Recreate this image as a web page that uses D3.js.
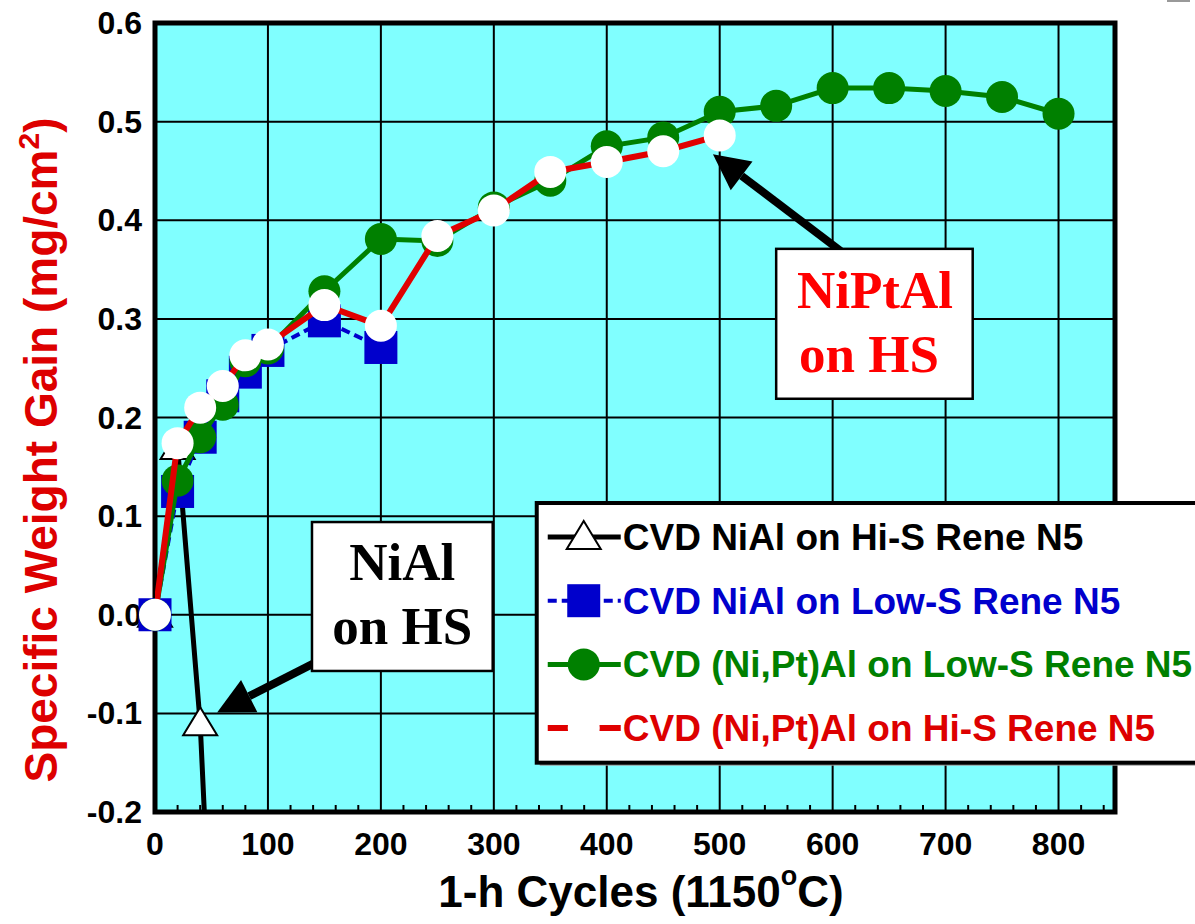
<!DOCTYPE html>
<html lang="en">
<head>
  <meta charset="UTF-8" />
  <title>Specific Weight Gain vs 1-h Cycles</title>
  <script src="https://d3js.org/d3.v7.min.js"></script>
  <style>
    body {
      margin: 0;
      padding: 0;
      background: #fff;
    }
    svg {
      display: block;
    }
    .tick-label {
      font-family: "Liberation Sans", Arial, sans-serif;
      font-weight: bold;
      font-size: 32px;
      fill: #000;
    }
    .legend-text {
      font-family: "Liberation Sans", Arial, sans-serif;
      font-weight: bold;
      font-size: 37px;
    }
    .note {
      font-family: "Liberation Serif", "Times New Roman", serif;
      font-weight: bold;
      font-size: 53px;
    }
  </style>
</head>
<body>
  <svg width="1195" height="924"></svg>

  <script>
    // data
    const cyclesNiAlHiS = [0, 20, 40, 60];
    const gainNiAlHiS = [0, 0.17, -0.11, -0.6];

    const cyclesNiAlLowS = [0, 20, 40, 60, 80, 100, 150, 200];
    const gainNiAlLowS = [0, 0.125, 0.18, 0.222, 0.246, 0.268, 0.298, 0.271];

    const cyclesPtLowS = [0, 20, 40, 60, 80, 100, 150, 200, 250, 300, 350, 400, 450, 500, 550, 600, 650, 700, 750, 800];
    const gainPtLowS = [0, 0.136, 0.18, 0.213, 0.257, 0.27, 0.328, 0.381, 0.379, 0.413, 0.44, 0.475, 0.484, 0.51, 0.516, 0.534, 0.534, 0.531, 0.525, 0.508];

    const cyclesPtHiS = [0, 20, 40, 60, 80, 100, 150, 200, 250, 300, 350, 400, 450, 500];
    const gainPtHiS = [0, 0.174, 0.21, 0.232, 0.263, 0.274, 0.314, 0.293, 0.384, 0.41, 0.449, 0.459, 0.47, 0.486];

    const xTicks = [0, 100, 200, 300, 400, 500, 600, 700, 800];
    const yTicks = [-0.2, -0.1, 0.0, 0.1, 0.2, 0.3, 0.4, 0.5, 0.6];

    const legendLabels = [
      "CVD NiAl on Hi-S Rene N5",
      "CVD NiAl on Low-S Rene N5",
      "CVD (Ni,Pt)Al on Low-S Rene N5",
      "CVD (Ni,Pt)Al on Hi-S Rene N5"
    ];

    const svg = d3.select("svg");
    const pLeft = 155, pRight = 1115, pTop = 23, pBottom = 812;

    const x = d3.scaleLinear().domain([0, 850]).range([pLeft, pRight]);
    const y = d3.scaleLinear().domain([-0.2, 0.6]).range([pBottom, pTop]);

    // plot background
    svg.append("rect")
      .attr("x", pLeft).attr("y", pTop)
      .attr("width", pRight - pLeft).attr("height", pBottom - pTop)
      .attr("fill", "#80ffff");

    svg.append("clipPath").attr("id", "plot")
      .append("rect")
      .attr("x", pLeft).attr("y", pTop)
      .attr("width", pRight - pLeft).attr("height", pBottom - pTop);

    // grid
    svg.selectAll(".vgrid")
      .data(xTicks.filter((d) => d > 0))
      .enter().append("line")
      .attr("x1", (d) => x(d)).attr("x2", (d) => x(d))
      .attr("y1", pTop).attr("y2", pBottom)
      .attr("stroke", "#000").attr("stroke-width", 2);

    svg.selectAll(".hgrid")
      .data(yTicks.filter((d) => d > -0.2 && d < 0.6))
      .enter().append("line")
      .attr("x1", pLeft).attr("x2", pRight)
      .attr("y1", (d) => y(d)).attr("y2", (d) => y(d))
      .attr("stroke", "#000").attr("stroke-width", 2);

    // minor ticks along the bottom, every 20 cycles
    svg.selectAll(".minor")
      .data(d3.range(20, 850, 20).filter((d) => d % 100 !== 0))
      .enter().append("line")
      .attr("x1", (d) => x(d)).attr("x2", (d) => x(d))
      .attr("y1", pBottom).attr("y2", pBottom - 7)
      .attr("stroke", "#000").attr("stroke-width", 2);

    // frame
    svg.append("rect")
      .attr("x", pLeft).attr("y", pTop)
      .attr("width", pRight - pLeft).attr("height", pBottom - pTop)
      .attr("fill", "none").attr("stroke", "#000").attr("stroke-width", 5);

    // tick labels (plain hyphen for negatives, as in the original)
    const fmt = (d) => d3.format(".1f")(d).replace("\u2212", "-");

    svg.selectAll(".ylab")
      .data(yTicks)
      .enter().append("text")
      .attr("class", "tick-label")
      .attr("x", pLeft - 13)
      .attr("y", (d) => y(d) + 11)
      .attr("text-anchor", "end")
      .text(fmt);

    svg.selectAll(".xlab")
      .data(xTicks)
      .enter().append("text")
      .attr("class", "tick-label")
      .attr("x", (d) => x(d))
      .attr("y", 855)
      .attr("text-anchor", "middle")
      .text((d) => d);

    // axis titles
    const xt = svg.append("text")
      .attr("x", 641).attr("y", 907)
      .attr("text-anchor", "middle")
      .attr("font-family", "Liberation Sans, Arial, sans-serif")
      .attr("font-weight", "bold")
      .attr("font-size", 44);
    xt.append("tspan").text("1-h Cycles (1150");
    xt.append("tspan").attr("font-size", 27).attr("dy", -22).text("o");
    xt.append("tspan").attr("dy", 22).text("C)");

    const yt = svg.append("text")
      .attr("transform", "translate(57,450) rotate(-90)")
      .attr("text-anchor", "middle")
      .attr("font-family", "Liberation Sans, Arial, sans-serif")
      .attr("font-weight", "bold")
      .attr("font-size", 46)
      .attr("fill", "#dd0000");
    yt.append("tspan").text("Specific Weight Gain (mg/cm");
    yt.append("tspan").attr("font-size", 30).attr("dy", -18).text("2");
    yt.append("tspan").attr("dy", 18).text(")");

    // series
    const series = [
      { cycles: cyclesNiAlHiS, gain: gainNiAlHiS, color: "#000", marker: "triangle", dash: null, width: 5 },
      { cycles: cyclesNiAlLowS, gain: gainNiAlLowS, color: "#0000cc", marker: "square", dash: "9,5", width: 4 },
      { cycles: cyclesPtLowS, gain: gainPtLowS, color: "#008000", marker: "circle", fill: "#008000", dash: null, width: 5 },
      { cycles: cyclesPtHiS, gain: gainPtHiS, color: "#e00000", marker: "circle", fill: "#fff", dash: null, width: 6 }
    ];

    const line = d3.line().x((d) => x(d[0])).y((d) => y(d[1]));

    function drawMarker(g, s, cx, cy) {
      if (s.marker === "triangle") {
        g.append("path")
          .attr("d", `M${cx},${cy - 16} L${cx + 17},${cy + 12} L${cx - 17},${cy + 12} Z`)
          .attr("fill", "#fff").attr("stroke", "#000").attr("stroke-width", 2);
      } else if (s.marker === "square") {
        g.append("rect")
          .attr("x", cx - 16.5).attr("y", cy - 16.5)
          .attr("width", 33).attr("height", 33)
          .attr("fill", s.color);
      } else {
        g.append("circle")
          .attr("cx", cx).attr("cy", cy).attr("r", 16)
          .attr("fill", s.fill);
      }
    }

    series.forEach((s) => {
      const pts = s.cycles.map((c, i) => [c, s.gain[i]]);
      svg.append("path")
        .attr("d", line(pts))
        .attr("clip-path", "url(#plot)")
        .attr("fill", "none")
        .attr("stroke", s.color)
        .attr("stroke-width", s.width)
        .attr("stroke-dasharray", s.dash);
      const g = svg.append("g");
      pts.filter((p) => p[1] >= -0.2).forEach((p) => drawMarker(g, s, x(p[0]), y(p[1])));
    });

    // annotation arrows (positions in data units)
    function arrow(from, to) {
      const x1 = x(from[0]), y1 = y(from[1]);
      const x2 = x(to[0]), y2 = y(to[1]);
      const len = Math.hypot(x1 - x2, y1 - y2);
      const ux = (x1 - x2) / len, uy = (y1 - y2) / len;
      const bx = x2 + ux * 36, by = y2 + uy * 36;
      svg.append("line")
        .attr("x1", x1).attr("y1", y1).attr("x2", bx).attr("y2", by)
        .attr("stroke", "#000").attr("stroke-width", 8);
      svg.append("path")
        .attr("d", `M${x2},${y2} L${bx - uy * 18},${by + ux * 18} L${bx + uy * 18},${by - ux * 18} Z`)
        .attr("fill", "#000");
    }

    arrow([607, 0.369], [494, 0.467]);
    arrow([141, -0.049], [55, -0.099]);

    // text boxes
    function noteBox(x0, y0, x1, y1) {
      svg.append("rect")
        .attr("x", x(x0)).attr("y", y(y0))
        .attr("width", x(x1) - x(x0)).attr("height", y(y1) - y(y0))
        .attr("fill", "#fff").attr("stroke", "#000").attr("stroke-width", 2.5);
    }

    noteBox(139, 0.094, 299, -0.057);
    svg.append("text").attr("class", "note").attr("x", x(219)).attr("y", 580)
      .attr("text-anchor", "middle").attr("fill", "#000").text("NiAl");
    svg.append("text").attr("class", "note").attr("x", x(219)).attr("y", 644)
      .attr("text-anchor", "middle").attr("fill", "#000").text("on HS");

    noteBox(550, 0.371, 724, 0.219);
    svg.append("text").attr("class", "note").attr("x", 797).attr("y", 308)
      .attr("fill", "#ff0000").text("NiPtAl");
    svg.append("text").attr("class", "note").attr("x", 799).attr("y", 372)
      .attr("fill", "#ff0000").text("on HS");

    // legend
    const lgX = x(338), lgY = y(0.1133), lgH = y(-0.15) - y(0.1133);
    svg.append("rect")
      .attr("x", lgX + 3).attr("y", lgY + 3)
      .attr("width", 800).attr("height", lgH)
      .attr("fill", "#999");
    svg.append("rect")
      .attr("x", lgX).attr("y", lgY)
      .attr("width", 800).attr("height", lgH)
      .attr("fill", "#fff").attr("stroke", "#000").attr("stroke-width", 4);

    const legendColors = ["#000", "#0000cc", "#008000", "#dd0000"];
    legendLabels.forEach((label, i) => {
      const cy = lgY + 34 + i * 63.7;
      const s = series[i];
      const g = svg.append("g");
      g.append("line")
        .attr("x1", lgX + 11).attr("x2", lgX + 84)
        .attr("y1", cy).attr("y2", cy)
        .attr("stroke", s.color).attr("stroke-width", s.width)
        .attr("stroke-dasharray", s.dash);
      drawMarker(g, s, lgX + 47, cy);
      svg.append("text")
        .attr("class", "legend-text")
        .attr("x", lgX + 86).attr("y", cy + 13)
        .attr("fill", legendColors[i])
        .text(label);
    });

    // small grey mark at the top right corner
    svg.append("rect").attr("x", 1167).attr("y", 0).attr("width", 23).attr("height", 2).attr("fill", "#999");
  </script>
</body>
</html>
